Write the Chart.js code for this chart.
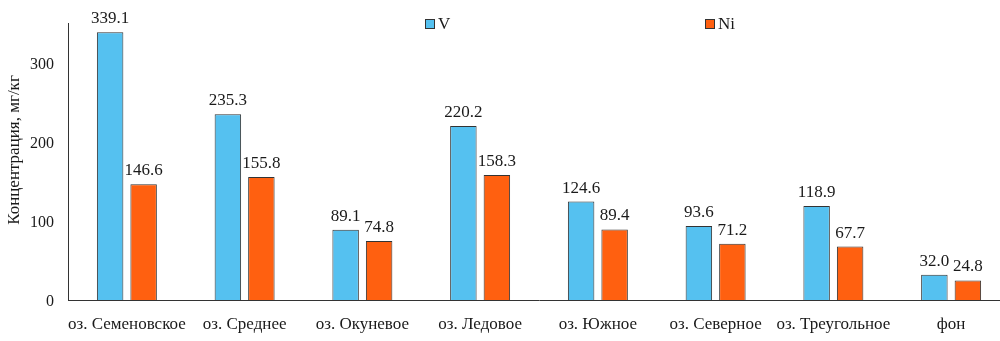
<!DOCTYPE html>
<html>
<head>
<meta charset="utf-8">
<script src="https://cdn.jsdelivr.net/npm/chart.js@4"></script>
<style>
    html, body { margin: 0; padding: 0; background: #fff; overflow: hidden; }
    #wrap { width: 1000px; height: 341px; overflow: hidden; }
</style>
</head>
<body>
<div id="wrap"><canvas id="chart" width="1012" height="341"></canvas></div>
<script>
// Chart data
const categories = ['оз. Семеновское', 'оз. Среднее', 'оз. Окуневое', 'оз. Ледовое',
    'оз. Южное', 'оз. Северное', 'оз. Треугольное', 'фон'];
const vValues = [339.1, 235.3, 89.1, 220.2, 124.6, 93.6, 118.9, 32.0];
const niValues = [146.6, 155.8, 74.8, 158.3, 89.4, 71.2, 67.7, 24.8];
const yTicks = [0, 100, 200, 300];
const yTitle = 'Концентрация, мг/кг';

const FONT = '"Liberation Serif", "Times New Roman", serif';
const TEXT = '#1a1a1a';

// Value labels above the bars
const barLabels = {
    id: 'barLabels',
    afterDatasetsDraw(chart) {
        const ctx = chart.ctx;
        ctx.save();
        ctx.font = '17px ' + FONT;
        ctx.fillStyle = TEXT;
        ctx.textAlign = 'center';
        ctx.textBaseline = 'alphabetic';
        chart.data.datasets.forEach((ds, i) => {
            chart.getDatasetMeta(i).data.forEach((bar, j) => {
                ctx.fillText(ds.data[j].toFixed(1), bar.x, bar.y - 9);
            });
        });
        ctx.restore();
    }
};

// Legend drawn inside the plot area + rotated axis title
const extras = {
    id: 'extras',
    afterDraw(chart) {
        const ctx = chart.ctx;
        const spots = [425, 705];
        ctx.save();
        ctx.font = '17px ' + FONT;
        ctx.textBaseline = 'middle';
        chart.data.datasets.forEach((ds, i) => {
            const x = spots[i];
            const y = 24;
            ctx.fillStyle = ds.backgroundColor;
            ctx.fillRect(x, y - 5, 9, 9);
            ctx.strokeStyle = '#333';
            ctx.lineWidth = 1;
            ctx.strokeRect(x + 0.5, y - 4.5, 9, 9);
            ctx.fillStyle = TEXT;
            ctx.textAlign = 'left';
            ctx.fillText(ds.label, x + 13, y + 1);
        });

        ctx.translate(15, 150);
        ctx.rotate(-Math.PI / 2);
        ctx.textAlign = 'center';
        ctx.fillText(yTitle, 0, 0);
        ctx.restore();
    }
};

new Chart(document.getElementById('chart'), {
    type: 'bar',
    data: {
        labels: categories,
        datasets: [
            {
                label: 'V',
                data: vValues,
                backgroundColor: '#55C1F0',
                borderColor: '#333',
                borderWidth: 1
            },
            {
                label: 'Ni',
                data: niValues,
                backgroundColor: '#FF6010',
                borderColor: '#333',
                borderWidth: 1
            }
        ]
    },
    options: {
        responsive: false,
        animation: false,
        categoryPercentage: 0.569,
        barPercentage: 0.79,
        layout: { padding: { left: 0, right: 2, top: 22, bottom: 0 } },
        plugins: {
            legend: { display: false },
            tooltip: { enabled: false }
        },
        scales: {
            x: {
                grid: { display: false, drawTicks: false },
                border: { color: '#333', width: 1 },
                ticks: {
                    color: TEXT,
                    font: { family: FONT, size: 17 },
                    padding: 14,
                    maxRotation: 0,
                    autoSkip: false
                },
                afterFit(scale) {
                    scale.height = 41;
                }
            },
            y: {
                min: 0,
                max: 350,
                grid: { display: false, drawTicks: false },
                border: { color: '#333', width: 1 },
                afterBuildTicks(scale) {
                    scale.ticks = yTicks.map(v => ({ value: v }));
                },
                afterFit(scale) {
                    scale.width = 68;
                },
                ticks: {
                    color: TEXT,
                    font: { family: FONT, size: 16 },
                    padding: 14,
                    labelOffset: 2
                }
            }
        }
    },
    plugins: [barLabels, extras]
});
</script>
</body>
</html>
